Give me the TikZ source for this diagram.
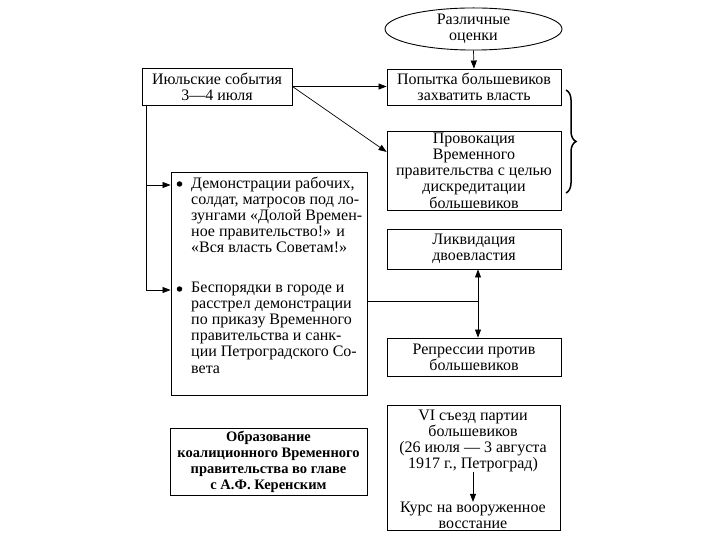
\documentclass[tikz,border=0pt]{standalone}
\usepackage{fontspec}
\setmainfont{Liberation Serif}
\usetikzlibrary{shapes.geometric,arrows.meta,decorations.pathreplacing}
\newcommand\dfont{\fontsize{16}{16.2}\selectfont}
\newcommand\bfont{\fontsize{14.5}{16}\selectfont\bfseries}
\begin{document}
\begin{tikzpicture}[x=1pt,y=-1pt,
  box/.style={draw, line width=0.9pt, inner sep=0pt, align=center, font=\dfont},
  txt/.style={inner sep=0pt, align=center, font=\dfont},
  arr/.style={-{Triangle[length=8pt,width=6pt]}, line width=0.7pt},
  ln/.style={line width=0.7pt},
  dot/.style={circle, fill, inner sep=0pt, minimum size=5.5pt}]
\useasboundingbox (0,0) rectangle (720,540);
% top
\node[draw, ellipse, line width=0.9pt, minimum width=177pt, minimum height=42pt, inner sep=0pt, align=center, font=\dfont] (ell) at (473.5,29) {Различные\\оценки};
\node[box, minimum width=150pt, minimum height=37pt] (jul) at (217,86.5) {Июльские события\\3---4 июля};
\node[box, minimum width=174pt, minimum height=36pt] (pop) at (474,87) {Попытка большевиков\\захватить власть};
\node[box, minimum width=174pt, minimum height=79pt] (prov) at (474,170.5) {Провокация\\Временного\\правительства с целью\\дискредитации\\большевиков};
\node[box, minimum width=174pt, minimum height=40pt] (liq) at (474,249) {Ликвидация\\двоевластия};
\node[box, minimum width=174pt, minimum height=38pt] (rep) at (474,357) {Репрессии против\\большевиков};
\node[box, minimum width=173pt, minimum height=125pt] (vibox) at (473.5,467.5) {};
\node[txt] (vi1) at (473,441) {VI съезд партии\\большевиков\\(26 июля — 3 августа\\1917 г., Петроград)};
\node[txt] (kurs) at (473,515.5) {Курс на вооруженное\\восстание};
% left
\node[box, minimum width=196pt, minimum height=223pt] (bbox) at (269,283.5) {};
\node[dot] (b1) at (179.5,184) {};
\node[inner sep=0pt, anchor=north west, align=left, font=\dfont] (t1) at (191,176.5) {Демонстрации рабочих,\\солдат, матросов под ло-\\зунгами «Долой Времен-\\ное правительство!» и\\«Вся власть Советам!»};
\node[dot] (b2) at (179.5,289) {};
\node[inner sep=0pt, anchor=north west, align=left, font=\dfont] (t2) at (191,281.5) {Беспорядки в городе и\\расстрел демонстрации\\по приказу Временного\\правительства и санк-\\ции Петроградского Со-\\вета};
\node[box, minimum width=197pt, minimum height=67pt, font=\bfont] (obr) at (268.5,461.5) {Образование\\коалиционного Временного\\правительства во главе\\с А.Ф. Керенским};
% connectors
\draw[arr] (ell.south) -- (pop.north);
\draw[arr] (jul.east) -- (pop.west |- jul.east);
\draw[arr] (jul.east) -- (prov.168);
\coordinate (v1) at (146,185);
\coordinate (v2) at (146,290);
\draw[arr] (jul.south -| v1) -- (v2) -- (bbox.west |- v2);
\draw[arr] (v1) -- (bbox.west |- v1);
\coordinate (j) at (478,301);
\draw[ln] (bbox.east |- j) -- (j);
\draw[arr] (j) -- (liq.south -| j);
\draw[arr] (j) -- (rep.north -| j);
\draw[arr] (vi1.south) -- (kurs.north);
% brace
\draw[decorate, decoration={brace, amplitude=10pt}, line width=1.5pt] (566,90) -- (566,193);
\end{tikzpicture}
\end{document}
